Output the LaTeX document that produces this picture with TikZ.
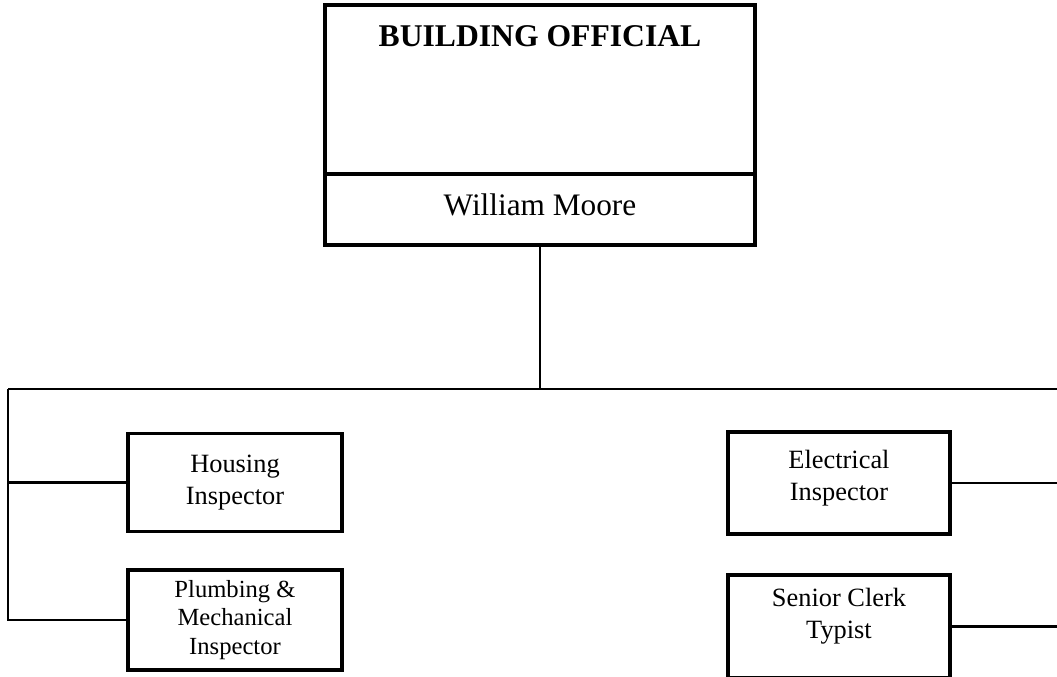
\documentclass[tikz,border=0pt]{standalone}
\usepackage{fontspec}
\setmainfont{Liberation Serif}
\usetikzlibrary{positioning}

\begin{document}
\begin{tikzpicture}[
    x=0.01cm, y=-0.01cm,
    every node/.style={font=\fontsize{7.5}{8.9}\selectfont},
    box/.style={rectangle, draw, line width=1.1pt, align=center, inner sep=0pt},
    topbox/.style={box, minimum width=4.3cm},
    staff/.style={box, minimum width=2.14cm, minimum height=0.98cm},
    wide/.style={staff, minimum width=2.22cm, minimum height=1.02cm},
    link/.style={line width=0.6pt}
  ]
  \useasboundingbox (0,0) rectangle (1057,677);

  % head of the department
  \node[topbox, minimum height=1.69cm] (official) at (540,89.5) {};
  \node[anchor=base, font=\fontsize{9}{11}\selectfont\bfseries] (title) at (540,47) {BUILDING OFFICIAL};
  \node[topbox, minimum height=0.71cm, text depth=2.8pt, font=\fontsize{8.9}{11}\selectfont] (moore) at (540,209.5) {William Moore};

  % staff
  \node[staff] (housing) at (235,482.5) {Housing\\Inspector};
  \node[staff, minimum height=1cm, font=\fontsize{7}{8}\selectfont] (plumbing) at (235,620) {Plumbing \&\\Mechanical\\Inspector};
  \node[wide, text depth=4.4pt] (electrical) at (839,483) {Electrical\\Inspector};
  \node[wide, minimum height=1.03cm, text depth=7.4pt] (senior) at (839,626.5) {Senior Clerk\\Typist};

  \coordinate (bus) at (540,389);
  \coordinate (busleft) at (8,389);
  \coordinate (busright) at (1057,389);

  \draw[link] (moore) -- (bus);
  \draw[link] (busleft) -- (busright);
  \draw[link] (busleft) |- (plumbing);
  \draw[link] (busleft |- housing) -- (housing);
  \draw[link] (electrical) -- (electrical -| busright);
  \draw[link] (senior) -- (senior -| busright);

\end{tikzpicture}
\end{document}
